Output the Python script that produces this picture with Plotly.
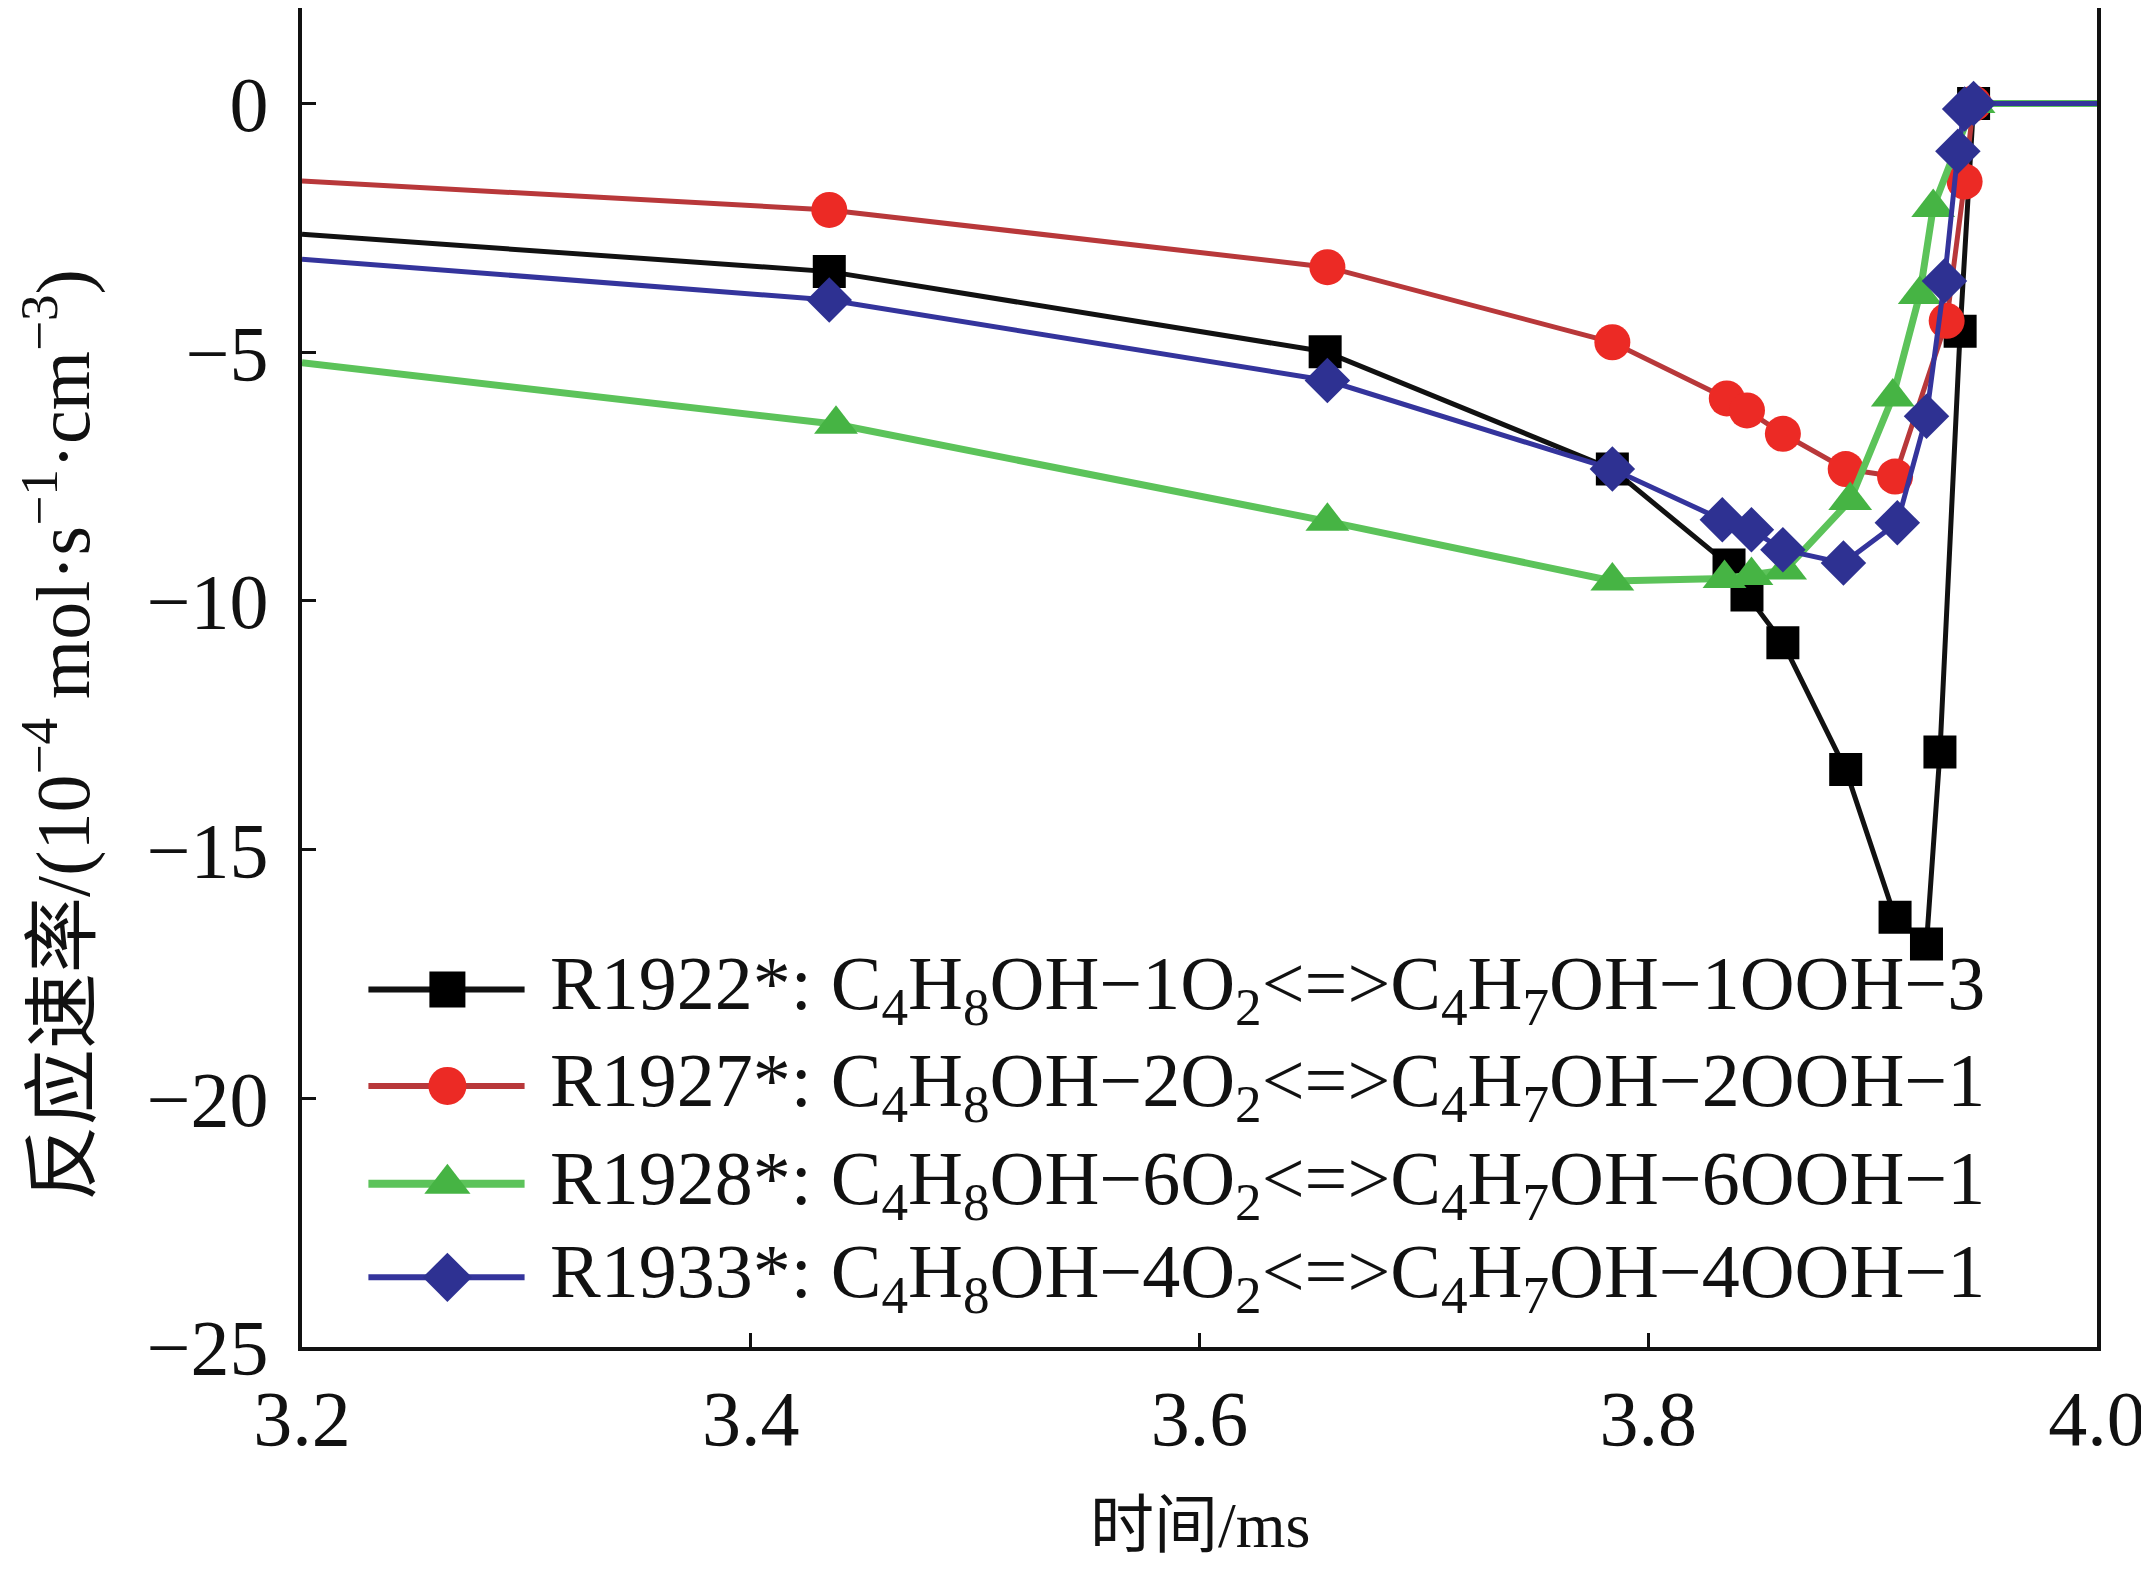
import plotly.graph_objects as go

# 时间 / ms  与  反应速率 / (10^-4 mol·s^-1·cm^-3)
t_r1922 = [3.200, 3.435, 3.656, 3.784, 3.836, 3.844, 3.860, 3.888, 3.910, 3.924, 3.930, 3.939, 3.945, 4.000]
v_r1922 = [-2.63, -3.38, -4.99, -7.35, -9.28, -9.88, -10.84, -13.39, -16.36, -16.90, -13.04, -4.58, 0.0, 0.0]

t_r1927 = [3.200, 3.435, 3.657, 3.784, 3.835, 3.844, 3.860, 3.888, 3.910, 3.933, 3.941, 3.945, 4.000]
v_r1927 = [-1.56, -2.14, -3.29, -4.80, -5.93, -6.17, -6.64, -7.35, -7.50, -4.37, -1.57, 0.0, 0.0]

t_r1928 = [3.200, 3.438, 3.657, 3.784, 3.834, 3.846, 3.861, 3.890, 3.909, 3.921, 3.927, 3.945, 4.000]
v_r1928 = [-5.21, -6.45, -8.40, -9.60, -9.55, -9.49, -9.38, -7.98, -5.90, -3.84, -2.09, 0.0, 0.0]

t_r1933 = [3.200, 3.435, 3.657, 3.784, 3.833, 3.846, 3.860, 3.887, 3.911, 3.924, 3.932, 3.938, 3.941, 3.945, 4.000]
v_r1933 = [-3.13, -3.95, -5.57, -7.35, -8.37, -8.57, -8.97, -9.24, -8.43, -6.29, -3.57, -0.96, -0.11, 0.0, 0.0]

names = [
    "R1922*: C<sub>4</sub>H<sub>8</sub>OH−1O<sub>2</sub><=>C<sub>4</sub>H<sub>7</sub>OH−1OOH−3",
    "R1927*: C<sub>4</sub>H<sub>8</sub>OH−2O<sub>2</sub><=>C<sub>4</sub>H<sub>7</sub>OH−2OOH−1",
    "R1928*: C<sub>4</sub>H<sub>8</sub>OH−6O<sub>2</sub><=>C<sub>4</sub>H<sub>7</sub>OH−6OOH−1",
    "R1933*: C<sub>4</sub>H<sub>8</sub>OH−4O<sub>2</sub><=>C<sub>4</sub>H<sub>7</sub>OH−4OOH−1",
]

x_ticks = [3.2, 3.4, 3.6, 3.8, 4.0]
x_ticktext = ["3.2", "3.4", "3.6", "3.8", "4.0"]
y_ticks = [0, -5, -10, -15, -20, -25]

# (线色, 点色, 符号, 点大小, 线宽, 图例点大小)
series = [
    (t_r1922, v_r1922, "#111111", "#000000", "square", 33, 5, 36),
    (t_r1927, v_r1927, "#b8383a", "#ec2a25", "circle", 36, 5, 38),
    (t_r1928, v_r1928, "#5cc35a", "#46b444", "triangle-up", 38, 7, 40),
    (t_r1933, v_r1933, "#34349c", "#2e3192", "diamond", 35, 5, 38),
]

SERIF = "Liberation Serif, Times New Roman, Noto Sans CJK SC, serif"

# 页面 body 默认 8px 边距, 图的尺寸相应缩小
W, H = 2141, 1561

fig = go.Figure()
for xs, ys, lc, mc, sym, ms, lw, _ in series:
    # 曲线在 3.2 处被坐标轴截断, 4.0 处为平台, 这两端不画点
    sizes = [0] + [ms] * (len(xs) - 2) + [0]
    fig.add_trace(go.Scatter(
        x=xs, y=ys, mode="lines+markers", showlegend=False,
        line=dict(color=lc, width=lw),
        marker=dict(symbol=sym, size=sizes, color=mc, opacity=1, line=dict(width=0)),
    ))

# 手工图例 (plotly 自带图例的点太小)
leg_x0, leg_x1, leg_mid, leg_text_x = 0.037, 0.124, 0.081, 0.137
leg_rows = [0.267, 0.195, 0.122, 0.052]
for (xs, ys, lc, mc, sym, ms, lw, lms), name, ry in zip(series, names, leg_rows):
    fig.add_trace(go.Scatter(
        x=[leg_x0, leg_mid, leg_x1], y=[ry, ry, ry], xaxis="x2", yaxis="y2",
        mode="lines+markers", showlegend=False, hoverinfo="skip",
        line=dict(color=lc, width=lw + 1),
        marker=dict(symbol=sym, size=[0, lms, 0], color=mc, opacity=1, line=dict(width=0)),
    ))
    fig.add_annotation(
        text=name, xref="paper", yref="paper", x=leg_text_x, y=ry,
        xanchor="left", yanchor="middle", showarrow=False,
        font=dict(size=76, family=SERIF, color="#111111"),
    )

# 坐标轴标题用注释放置, 位置固定
fig.add_annotation(
    text="反应速率/(10<sup>−4</sup> mol·s<sup>−1</sup>·cm<sup>−3</sup>)",
    xref="paper", yref="paper", x=-0.136, y=0.457, textangle=-90,
    xanchor="center", yanchor="middle", showarrow=False,
    font=dict(size=76, family=SERIF, color="#111111"),
)
fig.add_annotation(
    text="时间/ms", xref="paper", yref="paper", x=0.5, y=-0.133,
    xanchor="center", yanchor="middle", showarrow=False,
    font=dict(size=64, family=SERIF, color="#111111"),
)

fig.update_layout(
    width=W, height=H,
    margin=dict(l=294, r=52, t=0, b=222, autoexpand=False),
    paper_bgcolor="white", plot_bgcolor="white",
    font=dict(family=SERIF, size=78, color="#111111"),
    showlegend=False,
    xaxis=dict(
        range=[3.2, 4.0], tickvals=x_ticks, ticktext=x_ticktext,
        ticks="inside", ticklen=14, tickwidth=3, tickcolor="#111111",
        showline=True, linewidth=4, linecolor="#111111", mirror=True,
        showgrid=False, zeroline=False, ticklabelstandoff=0,
        ticklabeloverflow="allow", automargin=False,
    ),
    yaxis=dict(
        range=[-25, 1.92], tickvals=y_ticks,
        ticks="inside", ticklen=14, tickwidth=3, tickcolor="#111111",
        showline=True, linewidth=4, linecolor="#111111", mirror=True,
        showgrid=False, zeroline=False, ticklabelstandoff=14,
        automargin=False,
    ),
    xaxis2=dict(range=[0, 1], overlaying="x", visible=False, fixedrange=True),
    yaxis2=dict(range=[0, 1], overlaying="y", visible=False, fixedrange=True),
)

fig.write_html("out.html")
